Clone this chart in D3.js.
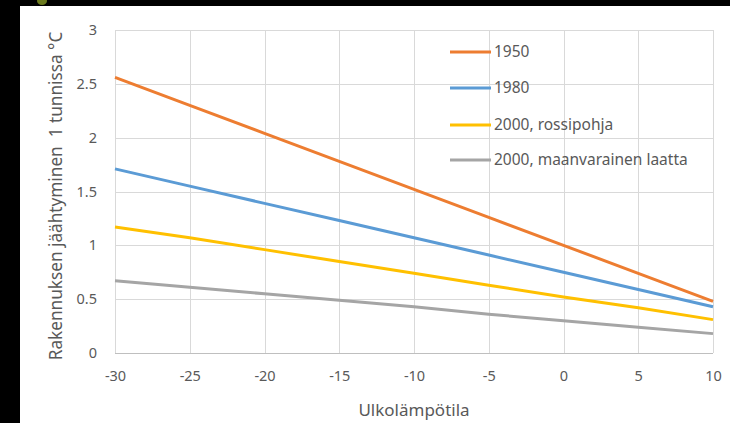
<!DOCTYPE html>
<html><head><meta charset="utf-8">
<script src="https://cdn.jsdelivr.net/npm/d3@7"></script>
<style>
html,body{margin:0;padding:0;background:#fff;}
svg{display:block;}
text{font-family:"Noto Sans","Open Sans",sans-serif;fill:#595959;}
</style></head>
<body><svg id="c" width="730" height="423"></svg>
<script>
const temps = [-30, -25, -20, -15, -10, -5, 0, 5, 10];
const s1950 = [2.56, 2.30, 2.04, 1.78, 1.52, 1.26, 1.00, 0.74, 0.48];
const s1980 = [1.71, 1.55, 1.39, 1.23, 1.07, 0.91, 0.75, 0.59, 0.43];
const sRossi = [1.17, 1.07, 0.96, 0.85, 0.74, 0.63, 0.52, 0.42, 0.31];
const sMaan = [0.67, 0.61, 0.55, 0.49, 0.43, 0.36, 0.30, 0.24, 0.18];
const seriesNames = ["1950", "1980", "2000, rossipohja", "2000, maanvarainen laatta"];
const seriesColors = ["#ED7D31", "#5B9BD5", "#FFC000", "#A5A5A5"];
const xTicks = [-30, -25, -20, -15, -10, -5, 0, 5, 10];
const yTicks = [0, 0.5, 1, 1.5, 2, 2.5, 3];
const xTitle = "Ulkolämpötila";
const yTitle = "Rakennuksen jäähtyminen  1 tunnissa °C";

const series = [s1950, s1980, sRossi, sMaan].map((v, i) => ({name: seriesNames[i], color: seriesColors[i], values: v}));

const svg = d3.select("#c");
const L = 115, R = 713, T = 30, B = 353;
const x = d3.scaleLinear().domain([-30, 10]).range([L, R]);
const y = d3.scaleLinear().domain([0, 3]).range([B, T]);

// gridlines
const g = svg.append("g");
g.selectAll(".vg").data(xTicks).join("line")
  .attr("x1", d => Math.round(x(d)) + 0.5).attr("x2", d => Math.round(x(d)) + 0.5)
  .attr("y1", T).attr("y2", B).attr("stroke", "#D9D9D9").attr("stroke-width", 1);
g.selectAll(".hg").data(yTicks).join("line")
  .attr("y1", d => Math.round(y(d)) + 0.5).attr("y2", d => Math.round(y(d)) + 0.5)
  .attr("x1", L).attr("x2", R).attr("stroke", d => d === 0 ? "#BFBFBF" : "#D9D9D9").attr("stroke-width", 1);

// axes labels
const xa = svg.append("g").attr("transform", `translate(0,${B})`)
  .call(d3.axisBottom(x).tickValues(xTicks).tickSize(0).tickPadding(18).tickFormat(d => String(d)));
xa.select(".domain").remove();
xa.selectAll("text").style("font-size", "14.5px").attr("fill", "#595959").style("font-family", '"Noto Sans",sans-serif');

const ya = svg.append("g").attr("transform", `translate(${L},0)`)
  .call(d3.axisLeft(y).tickValues(yTicks).tickSize(0).tickPadding(18).tickFormat(d => String(d)));
ya.select(".domain").remove();
ya.selectAll("text").style("font-size", "14.5px").attr("fill", "#595959").style("font-family", '"Noto Sans",sans-serif');

// lines
const line = d3.line().x((d, i) => x(temps[i])).y(d => y(d));
svg.append("g").selectAll("path").data(series).join("path")
  .attr("d", d => line(d.values)).attr("fill", "none")
  .attr("stroke", d => d.color).attr("stroke-width", 3).attr("stroke-linecap", "butt");

// legend
const lg = svg.append("g");
const ly = [52, 88, 125, 160];
series.forEach((s, i) => {
  lg.append("line").attr("x1", 450).attr("x2", 491).attr("y1", ly[i]).attr("y2", ly[i])
    .attr("stroke", s.color).attr("stroke-width", 3);
  lg.append("text").attr("x", 494).attr("y", ly[i]).attr("dy", "0.35em")
    .style("font-size", "15.5px").text(s.name);
});

// titles
svg.append("text").attr("x", (L + R) / 2).attr("y", 410).attr("dy", "0.35em")
  .attr("text-anchor", "middle").style("font-size", "17px").text(xTitle);
svg.append("text").attr("transform", `translate(56,196) rotate(-90)`).attr("dy", "0.35em")
  .attr("text-anchor", "middle").style("font-size", "17.2px").style("white-space", "pre").text(yTitle);

// black frame (cropped screenshot edges)
svg.append("rect").attr("x", 0).attr("y", 0).attr("width", 730).attr("height", 6).attr("fill", "#000");
svg.append("rect").attr("x", 0).attr("y", 0).attr("width", 20).attr("height", 423).attr("fill", "#000");
svg.append("ellipse").attr("cx", 42).attr("cy", 1).attr("rx", 5).attr("ry", 4).attr("fill", "#6b7a1e");
</script></body></html>
